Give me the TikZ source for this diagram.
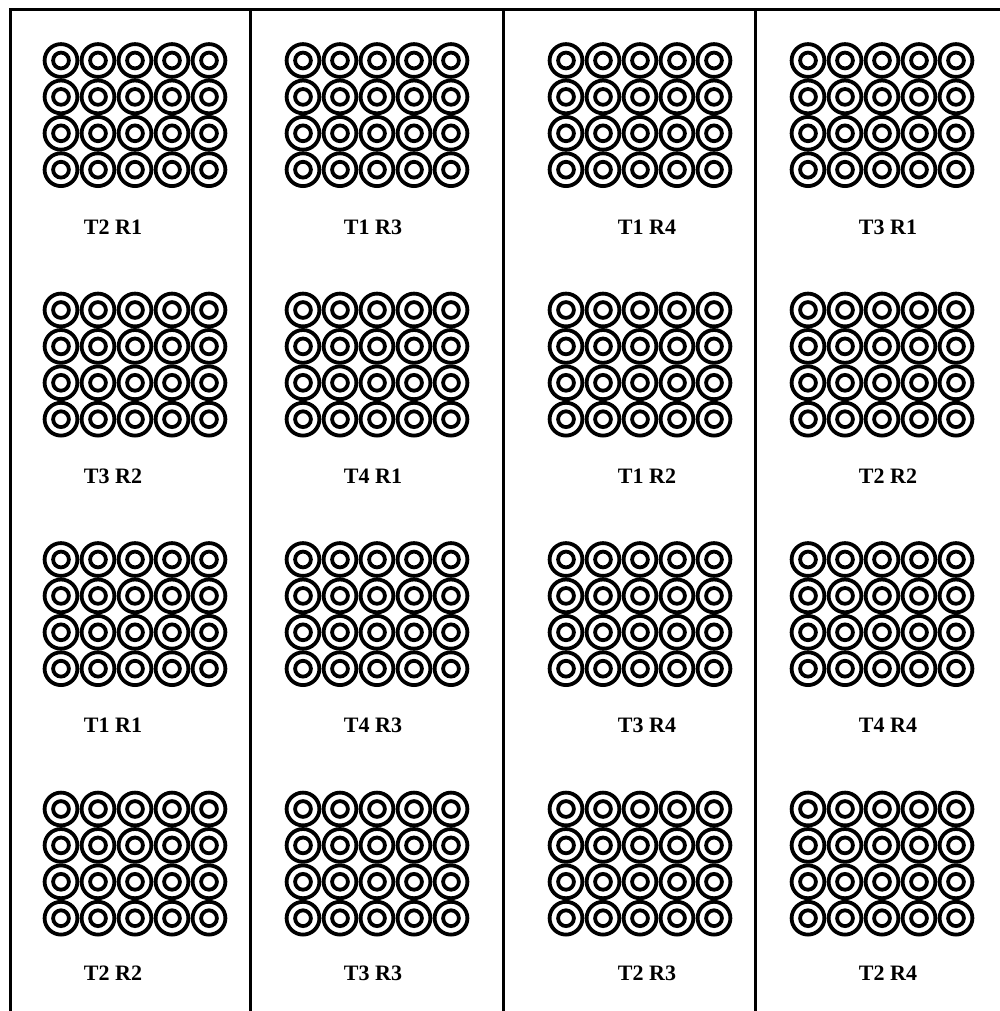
\documentclass[tikz,border=0pt]{standalone}
\usepackage{fontspec}
\setmainfont{Liberation Serif}
\usetikzlibrary{positioning}

\begin{document}
\begin{tikzpicture}[
		x=0.5pt,y=-0.5pt,
		wall/.style={line width=1.5pt,line cap=rect},
		ring/.style={line width=1.9pt},
		tag/.style={font=\bfseries\fontsize{11}{13}\selectfont,inner sep=0pt}
	]
	\useasboundingbox (0,0) rectangle (1000,1011);
	% frame
	\draw[wall] (10,1012) -- (10,10) -- (1001,10);
	\foreach \xx in {250,503,755} {
		\draw[wall] (\xx,10) -- (\xx,1012);
	}
	% pots, 5 x 4 per plot
	\foreach \gx/\col in {61/1,303/2,566/3,808/4} {
		\foreach \gy/\row in {60.5/1,310/2,559.5/3,809/4} {
			\foreach \i in {0,...,4} {
				\foreach \j in {0,...,3} {
					\draw[ring] (\gx+37*\i,\gy+36.4*\j) circle[radius=8.2pt];
					\draw[ring] (\gx+37*\i,\gy+36.4*\j) circle[radius=3.95pt];
				}
			}
		}
	}
	% plot labels
	\foreach \lx/\col in {113/1,373/2,647/3,888/4} {
		\foreach \ly/\row in {227/1,476/2,725/3,973/4} {
			\coordinate (l\col\row) at (\lx,\ly);
		}
	}
	\node[tag] (t11) at (l11) {T2 R1};
	\node[tag] (t21) at (l21) {T1 R3};
	\node[tag] (t31) at (l31) {T1 R4};
	\node[tag] (t41) at (l41) {T3 R1};
	\node[tag] (t12) at (l12) {T3 R2};
	\node[tag] (t22) at (l22) {T4 R1};
	\node[tag] (t32) at (l32) {T1 R2};
	\node[tag] (t42) at (l42) {T2 R2};
	\node[tag] (t13) at (l13) {T1 R1};
	\node[tag] (t23) at (l23) {T4 R3};
	\node[tag] (t33) at (l33) {T3 R4};
	\node[tag] (t43) at (l43) {T4 R4};
	\node[tag] (t14) at (l14) {T2 R2};
	\node[tag] (t24) at (l24) {T3 R3};
	\node[tag] (t34) at (l34) {T2 R3};
	\node[tag] (t44) at (l44) {T2 R4};
\end{tikzpicture}
\end{document}
